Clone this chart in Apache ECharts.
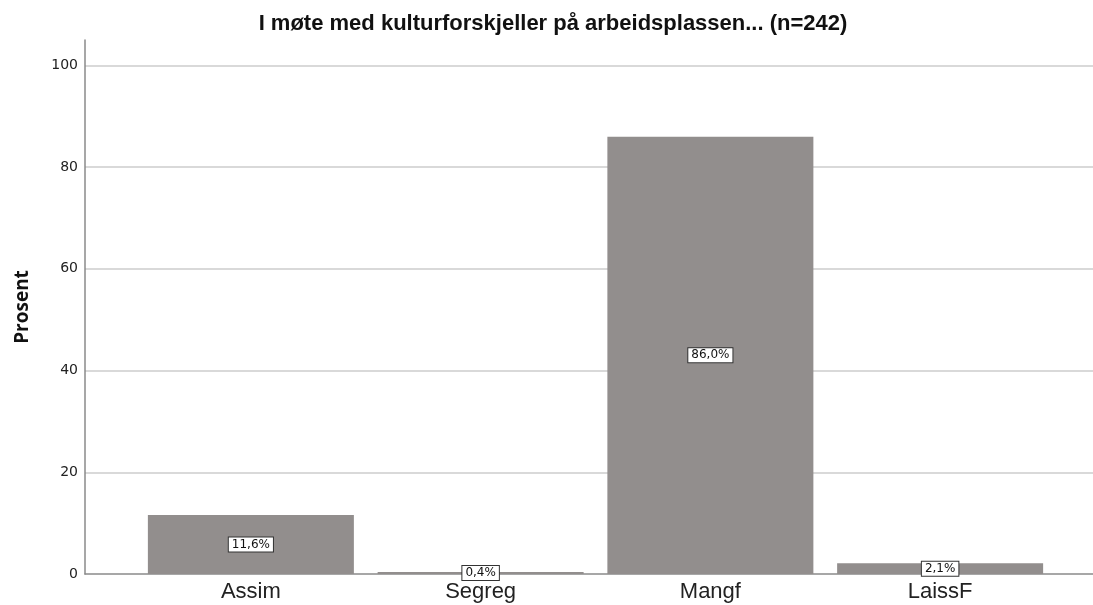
<!DOCTYPE html>
<html><head><meta charset="utf-8">
<script src="https://cdn.jsdelivr.net/npm/echarts@6/dist/echarts.min.js"></script>
<style>html,body{margin:0;padding:0;background:#fff}#c{width:1093px;height:605px}</style>
</head><body><div id="c"></div>
<script>
const categories = ['Assim', 'Segreg', 'Mangf', 'LaissF'];
const values = [11.6, 0.4, 86.0, 2.1];
const labels = ['11,6%', '0,4%', '86,0%', '2,1%'];
const titleText = 'I møte med kulturforskjeller på arbeidsplassen... (n=242)';
const yName = 'Prosent';

const chart = echarts.init(document.getElementById('c'), null, {renderer: 'canvas'});
const sans = '"Liberation Sans", Arial, sans-serif';
chart.setOption({
  animation: false,
  title: {text: titleText, left: 548, textAlign: 'center', top: 8,
    textStyle: {fontFamily: sans, fontSize: 22, fontWeight: 'bold', color: '#111'}},
  grid: [
    {left: 85, right: 0, top: 40, bottom: 31, containLabel: false, outerBoundsMode: 'none'},
    {left: 136, right: 38, top: 40, bottom: 31, containLabel: false, outerBoundsMode: 'none'}
  ],
  xAxis: [
    {gridIndex: 0, type: 'value', min: 0, max: 1, axisLine: {show: true, onZero: false, lineStyle: {color: '#8a8a8a', width: 1.5}},
      axisTick: {show: false}, axisLabel: {show: false}, splitLine: {show: false}},
    {gridIndex: 1, type: 'category', data: categories, axisLine: {show: false}, axisTick: {show: false},
      axisLabel: {margin: 7, fontFamily: sans, fontSize: 22, color: '#222'}, splitLine: {show: false}}
  ],
  yAxis: [
    {gridIndex: 0, type: 'value', min: 0, max: 105, interval: 20, name: yName, nameLocation: 'middle', nameGap: 53,
      nameTextStyle: {fontFamily: '"Open Sans", sans-serif', fontSize: 19, fontWeight: 'bold', color: '#111'},
      axisLine: {show: true, lineStyle: {color: '#8a8a8a', width: 1.5}}, axisTick: {show: false},
      axisLabel: {showMaxLabel: false, margin: 7, fontFamily: 'DejaVu Sans, sans-serif', fontSize: 14, color: '#222'},
      splitLine: {show: true, showMaxLine: false, showMinLine: false, lineStyle: {color: '#cccccc', width: 1.5}}},
    {gridIndex: 1, type: 'value', min: 0, max: 105, interval: 20, show: false, splitLine: {show: false}}
  ],
  series: [{
    type: 'bar', xAxisIndex: 1, yAxisIndex: 1, data: values, barWidth: 206,
    itemStyle: {color: '#928e8d'},
    label: {show: true, position: 'inside', formatter: p => labels[p.dataIndex],
      fontFamily: 'DejaVu Sans, sans-serif', fontSize: 12, color: '#111', backgroundColor: '#fff',
      borderColor: '#333', borderWidth: 1, padding: [1, 3, 1, 3]}
  }]
});
</script></body></html>
